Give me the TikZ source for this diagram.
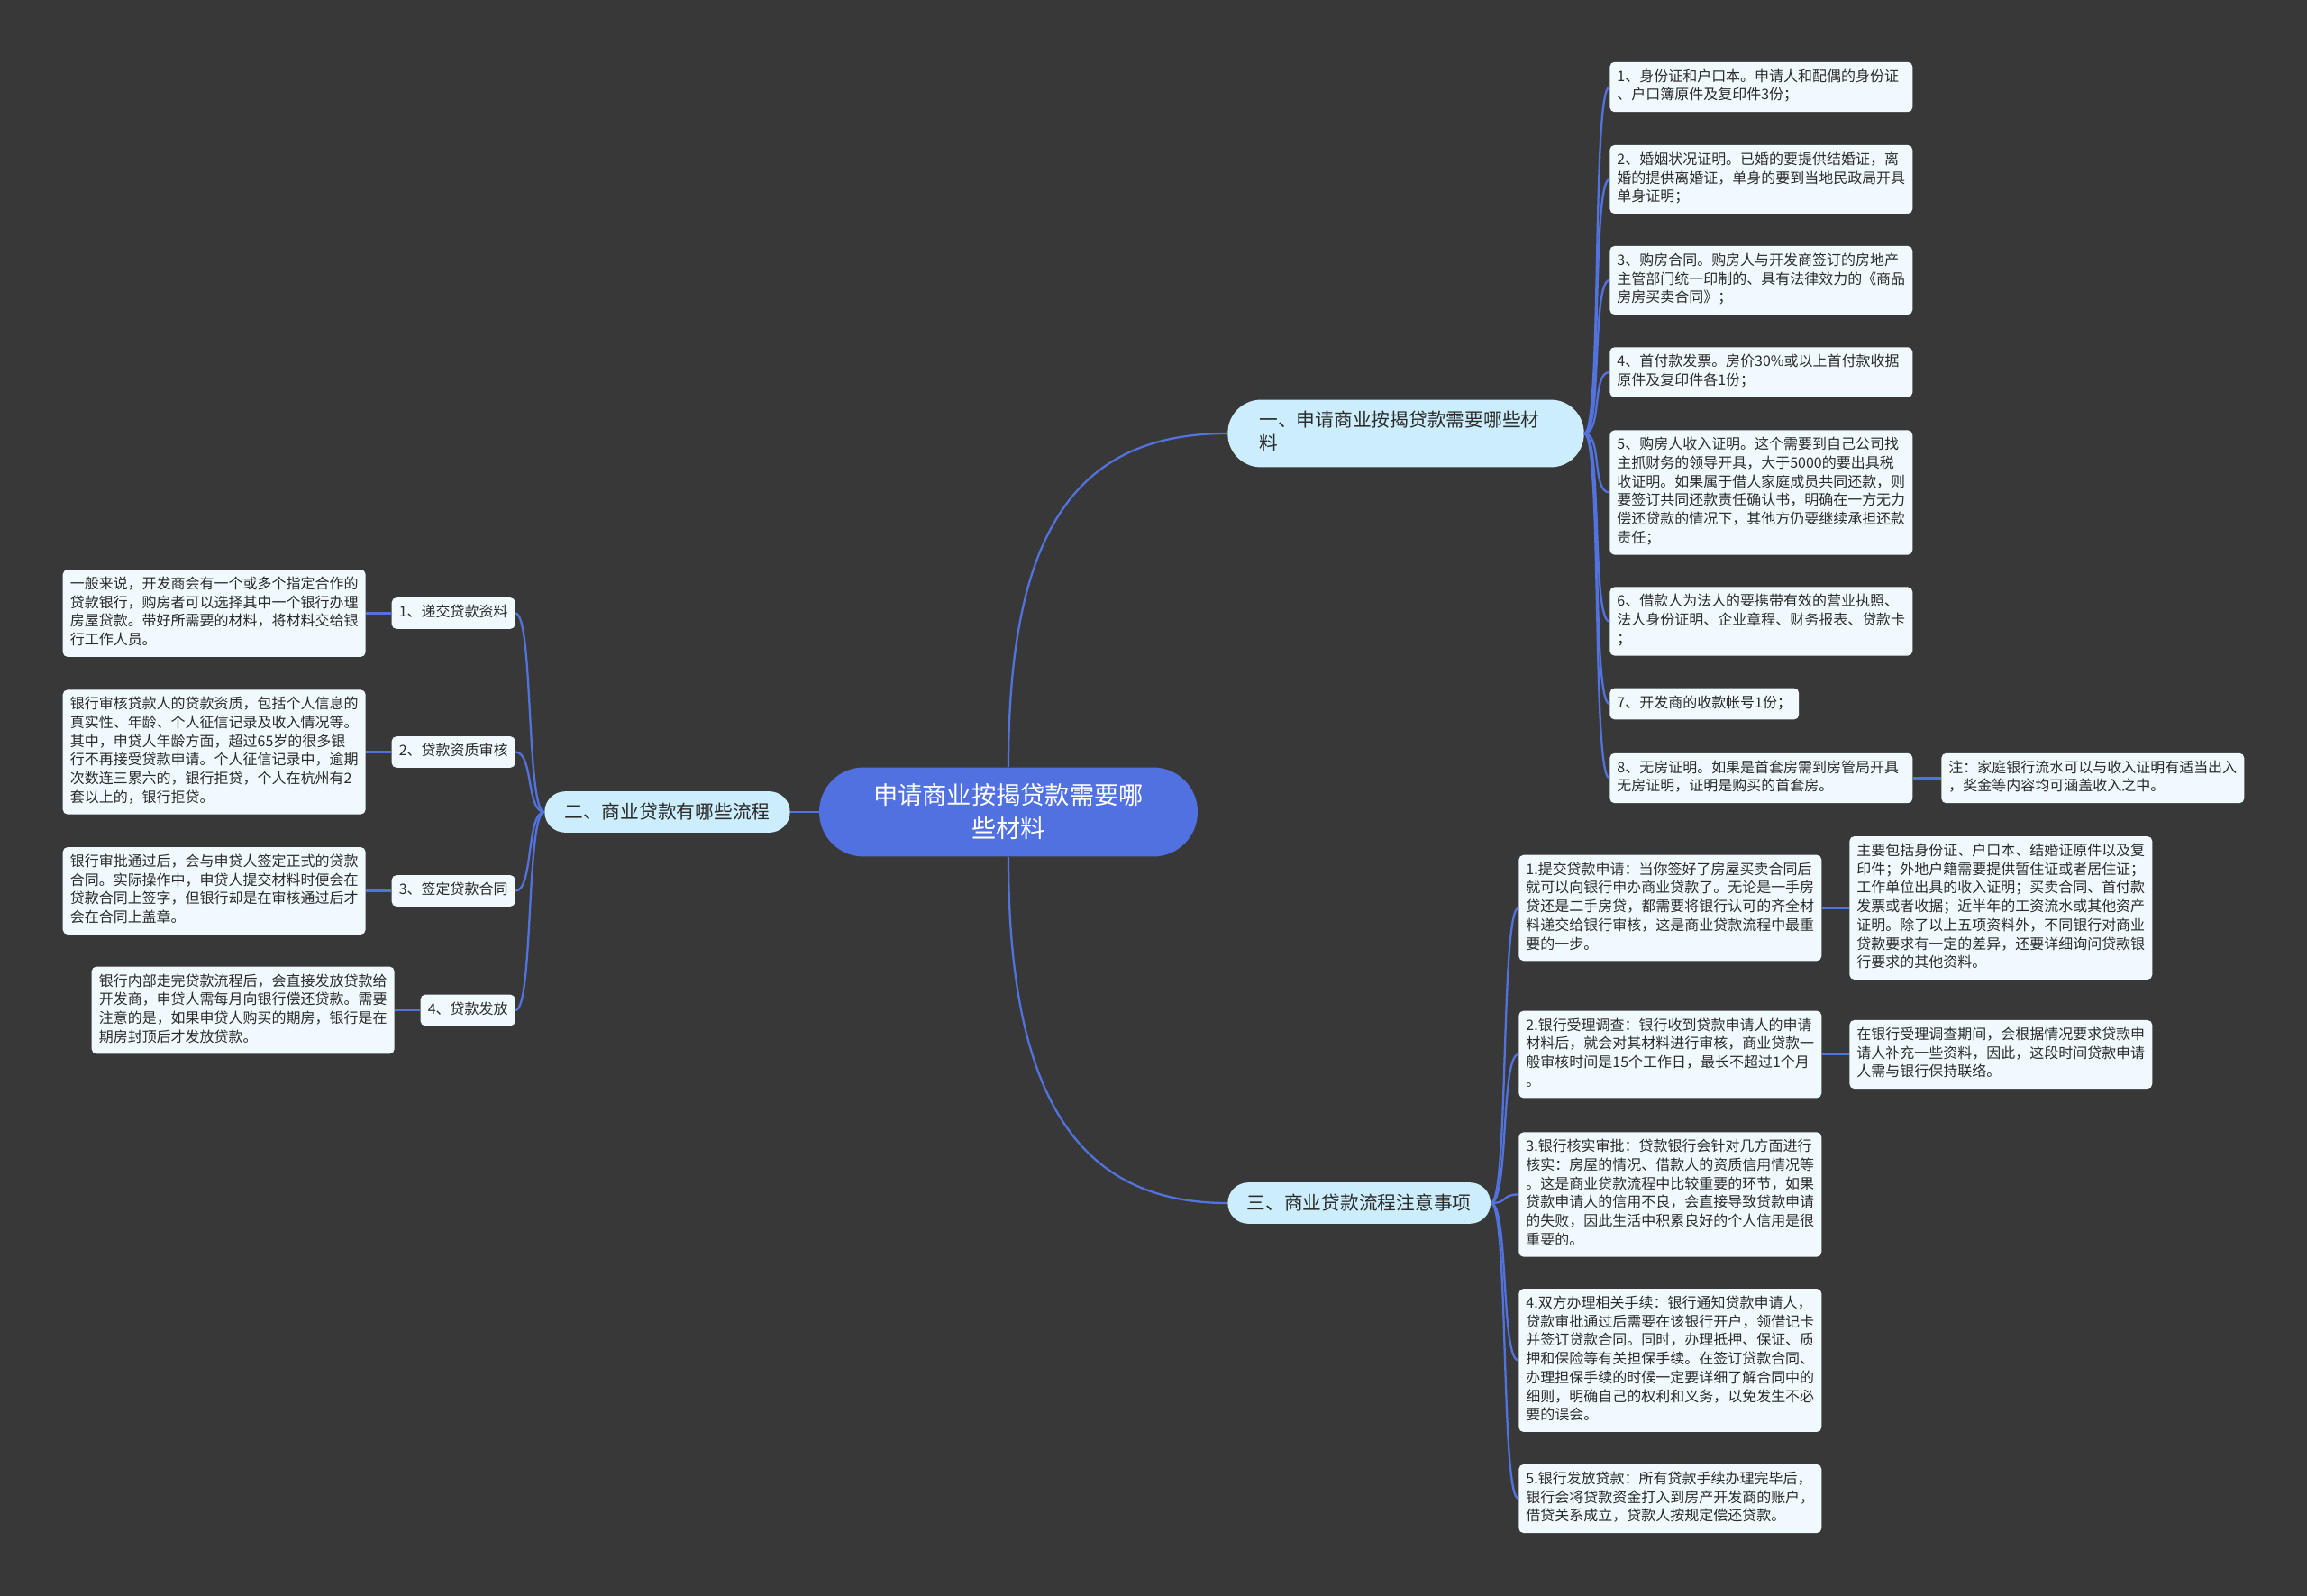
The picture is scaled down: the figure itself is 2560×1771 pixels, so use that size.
\documentclass[tikz,border=0pt]{standalone}
\usepackage{fontspec}
\setmainfont{Noto Sans CJK SC}
\usetikzlibrary{calc}
\definecolor{bgc}{HTML}{393838}
\definecolor{mblue}{HTML}{5271E0}
\definecolor{lblue}{HTML}{CCEDFC}
\definecolor{pale}{HTML}{F0FAFE}
\definecolor{ink}{HTML}{2B2B2B}
\definecolor{wire}{HTML}{5272DD}

\begin{document}
\begin{tikzpicture}[x=0.02cm, y=-0.02cm,
  maintopic/.style={fill=mblue, text=white, rounded corners=28pt, minimum width=239pt,
                    minimum height=56.3pt, align=center, inner sep=0pt,
                    font=\fontsize{15.5}{21}\selectfont},
  subtopic/.style={fill=lblue, text=ink, rounded corners=13pt, minimum height=26pt,
                   align=center, inner sep=0pt, font=\fontsize{11.8}{15}\selectfont},
  leafbox/.style={fill=pale, text=ink, rounded corners=3pt, inner xsep=4.6pt, inner ysep=4pt,
                  align=left, font=\fontsize{9.1}{11.78}\selectfont,
                  execute at begin node=\strut, execute at end node=\strut},
  wideleaf/.style={leafbox, text width=182pt},
  link/.style={draw=wire, line width=1.3pt}
]
\fill[bgc] (0,0) rectangle (2560,1771);

\node[maintopic] (root) at (1119,901) {申请商业按揭贷款需要哪\\些材料};
\node[subtopic, anchor=west, text width=185pt, inner xsep=20pt, inner ysep=6.3pt, align=left,
      rounded corners=21pt, execute at begin node=\strut, execute at end node=\strut] (b1) at (1362,481) {一、申请商业按揭贷款需要哪些材\\料};
\node[subtopic, anchor=east, minimum width=155pt] (b2) at (877,901) {二、商业贷款有哪些流程};
\node[subtopic, anchor=west, minimum width=166pt] (b3) at (1362,1335) {三、商业贷款流程注意事项};

\node[wideleaf, anchor=west] (a1) at (1786,96.5) {1、身份证和户口本。申请人和配偶的身份证\\、户口簿原件及复印件3份；};
\node[wideleaf, anchor=west] (a2) at (1786,199) {2、婚姻状况证明。已婚的要提供结婚证，离\\婚的提供离婚证，单身的要到当地民政局开具\\单身证明；};
\node[wideleaf, anchor=west] (a3) at (1786,311) {3、购房合同。购房人与开发商签订的房地产\\主管部门统一印制的、具有法律效力的《商品\\房房买卖合同》；};
\node[wideleaf, anchor=west] (a4) at (1786,413) {4、首付款发票。房价30\%或以上首付款收据\\原件及复印件各1份；};
\node[wideleaf, anchor=west] (a5) at (1786,546.5) {5、购房人收入证明。这个需要到自己公司找\\主抓财务的领导开具，大于5000的要出具税\\收证明。如果属于借人家庭成员共同还款，则\\要签订共同还款责任确认书，明确在一方无力\\偿还贷款的情况下，其他方仍要继续承担还款\\责任；};
\node[wideleaf, anchor=west] (a6) at (1786,689.5) {6、借款人为法人的要携带有效的营业执照、\\法人身份证明、企业章程、财务报表、贷款卡\\；};
\node[leafbox, anchor=west] (a7) at (1786,781) {7、开发商的收款帐号1份；};
\node[wideleaf, anchor=west] (a8) at (1786,863.5) {8、无房证明。如果是首套房需到房管局开具\\无房证明，证明是购买的首套房。};
\node[wideleaf, anchor=west] (note) at (2154,863.5) {注：家庭银行流水可以与收入证明有适当出入\\，奖金等内容均可涵盖收入之中。};

\node[leafbox, anchor=east] (c1) at (572,680.5) {1、递交贷款资料};
\node[leafbox, anchor=east] (c2) at (572,834.5) {2、贷款资质审核};
\node[leafbox, anchor=east] (c3) at (572,988.5) {3、签定贷款合同};
\node[leafbox, anchor=east] (c4) at (572,1121) {4、贷款发放};
\node[wideleaf, anchor=east] (g1) at (406,680.5) {一般来说，开发商会有一个或多个指定合作的\\贷款银行，购房者可以选择其中一个银行办理\\房屋贷款。带好所需要的材料，将材料交给银\\行工作人员。};
\node[wideleaf, anchor=east] (g2) at (406,834.5) {银行审核贷款人的贷款资质，包括个人信息的\\真实性、年龄、个人征信记录及收入情况等。\\其中，申贷人年龄方面，超过65岁的很多银\\行不再接受贷款申请。个人征信记录中，逾期\\次数连三累六的，银行拒贷，个人在杭州有2\\套以上的，银行拒贷。};
\node[wideleaf, anchor=east] (g3) at (406,988.5) {银行审批通过后，会与申贷人签定正式的贷款\\合同。实际操作中，申贷人提交材料时便会在\\贷款合同上签字，但银行却是在审核通过后才\\会在合同上盖章。};
\node[wideleaf, anchor=east] (g4) at (438,1121) {银行内部走完贷款流程后，会直接发放贷款给\\开发商，申贷人需每月向银行偿还贷款。需要\\注意的是，如果申贷人购买的期房，银行是在\\期房封顶后才发放贷款。};

\node[wideleaf, anchor=west] (d1) at (1685,1007.5) {1.提交贷款申请：当你签好了房屋买卖合同后\\就可以向银行申办商业贷款了。无论是一手房\\贷还是二手房贷，都需要将银行认可的齐全材\\料递交给银行审核，这是商业贷款流程中最重\\要的一步。};
\node[wideleaf, anchor=west] (d2) at (1685,1170) {2.银行受理调查：银行收到贷款申请人的申请\\材料后，就会对其材料进行审核，商业贷款一\\般审核时间是15个工作日，最长不超过1个月\\。};
\node[wideleaf, anchor=west] (d3) at (1685,1325.5) {3.银行核实审批：贷款银行会针对几方面进行\\核实：房屋的情况、借款人的资质信用情况等\\。这是商业贷款流程中比较重要的环节，如果\\贷款申请人的信用不良，会直接导致贷款申请\\的失败，因此生活中积累良好的个人信用是很\\重要的。};
\node[wideleaf, anchor=west] (d4) at (1685,1509.5) {4.双方办理相关手续：银行通知贷款申请人，\\贷款审批通过后需要在该银行开户，领借记卡\\并签订贷款合同。同时，办理抵押、保证、质\\押和保险等有关担保手续。在签订贷款合同、\\办理担保手续的时候一定要详细了解合同中的\\细则，明确自己的权利和义务，以免发生不必\\要的误会。};
\node[wideleaf, anchor=west] (d5) at (1685,1663) {5.银行发放贷款：所有贷款手续办理完毕后，\\银行会将贷款资金打入到房产开发商的账户，\\借贷关系成立，贷款人按规定偿还贷款。};
\node[wideleaf, anchor=west] (e1) at (2052,1007.5) {主要包括身份证、户口本、结婚证原件以及复\\印件；外地户籍需要提供暂住证或者居住证；\\工作单位出具的收入证明；买卖合同、首付款\\发票或者收据；近半年的工资流水或其他资产\\证明。除了以上五项资料外，不同银行对商业\\贷款要求有一定的差异，还要详细询问贷款银\\行要求的其他资料。};
\node[wideleaf, anchor=west] (e2) at (2052,1170) {在银行受理调查期间，会根据情况要求贷款申\\请人补充一些资料，因此，这段时间贷款申请\\人需与银行保持联络。};

\draw[link] (root.north) .. controls +(0,-260) and +(-170,0) .. (b1.west);
\draw[link] (root.south) .. controls +(0,260) and +(-170,0) .. (b3.west);
\draw[link] (root.west) -- (b2.east);

\foreach \n in {a1,a2,a3,a4,a5,a6,a7,a8}
  \draw[link] (b1.east) .. controls +(20,0) and +(-20,0) .. (\n.west);
\foreach \n in {c1,c2,c3,c4}
  \draw[link] (b2.west) .. controls +(-20,0) and +(20,0) .. (\n.east);
\foreach \n in {d1,d2,d3,d4,d5}
  \draw[link] (b3.east) .. controls +(20,0) and +(-20,0) .. (\n.west);

\draw[link] (a8.east) -- (note.west);
\foreach \n in {1,2,3,4}
  \draw[link] (c\n.west) -- (g\n.east);
\draw[link] (d1.east) -- (e1.west);
\draw[link] (d2.east) -- (e2.west);
\end{tikzpicture}
\end{document}
